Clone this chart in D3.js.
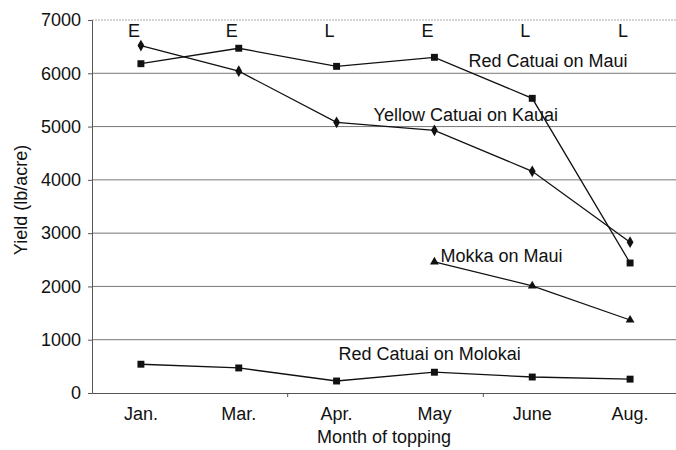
<!DOCTYPE html>
<html>
<head>
<meta charset="utf-8">
<script src="https://cdn.jsdelivr.net/npm/d3@7"></script>
<style>
  body { margin: 0; background: #fff; }
  text { font-family: "Liberation Sans", Arial, sans-serif; fill: #111; }
</style>
</head>
<body>
<div id="chart"></div>
<script>
var months = ["Jan.", "Mar.", "Apr.", "May", "June", "Aug."]
var flags = ["E", "E", "L", "E", "L", "L"]
var redMaui = [6180, 6470, 6130, 6300, 5530, 2440]
var yellowKauai = [6520, 6040, 5080, 4930, 4160, 2830]
var mokkaMaui = [null, null, null, 2460, 2010, 1370]
var redMolokai = [540, 470, 225, 390, 300, 260]
var yTicks = [0, 1000, 2000, 3000, 4000, 5000, 6000, 7000]

var margin = { top: 20, right: -3, bottom: 57, left: 92 }
    W = 676, H = 450
    w = W - margin.left - margin.right
    h = H - margin.top - margin.bottom

var svg = d3.select("#chart").append("svg")
    .attr("width", W).attr("height", H)
  .append("g")
    .attr("transform", "translate(" + margin.left + "," + margin.top + ")")

var x = d3.scaleBand().domain(months).range([0, w])
var y = d3.scaleLinear().domain([0, 7000]).range([h, 0])
var cx = function (m) { return x(m) + x.bandwidth() / 2 }

// gridlines
svg.selectAll(".grid")
    .data(yTicks.slice(1))
    .enter().append("line")
    .attr("x1", 0).attr("x2", w)
    .attr("y1", function (d) { return y(d) }).attr("y2", function (d) { return y(d) })
    .attr("stroke", function (d) { return d == 7000 ? "#aaa" : "#777" })
    .attr("stroke-dasharray", function (d) { return d == 7000 ? "2,1" : null })
    .attr("stroke-width", 1)

// axes
var yAx = svg.append("g")
    .call(d3.axisLeft(y).tickValues(yTicks).tickSize(4).tickPadding(7).tickFormat(d3.format("d")))
yAx.select(".domain").attr("stroke", "#555")
yAx.selectAll("line").attr("stroke", "#555")
yAx.selectAll("text").style("font-size", "18px").attr("fill", "#111")

var xAx = svg.append("g")
    .attr("transform", "translate(0," + h + ")")
    .call(d3.axisBottom(x).tickSize(0).tickPadding(14))
xAx.select(".domain").attr("stroke", "#555")
xAx.selectAll("text").style("font-size", "18px").attr("fill", "#111")

// tick marks between every second category
svg.selectAll(".xt")
    .data([1, 3, 5])
    .enter().append("line")
    .attr("x1", function (i) { return x(months[i]) + x.bandwidth() })
    .attr("x2", function (i) { return x(months[i]) + x.bandwidth() })
    .attr("y1", h).attr("y2", h + 4)
    .attr("stroke", "#555")

// series
var series = [
  { vals: redMaui, shape: d3.symbolSquare, size: 48 },
  { vals: yellowKauai, shape: d3.symbolDiamond, size: 40 },
  { vals: mokkaMaui, shape: d3.symbolTriangle, size: 34 },
  { vals: redMolokai, shape: d3.symbolSquare, size: 48 }
]

var line = d3.line()
    .defined(function (d) { return d != null })
    .x(function (d, i) { return cx(months[i]) })
    .y(function (d) { return y(d) })

series.forEach(function (s) {
  svg.append("path")
      .attr("d", line(s.vals))
      .attr("fill", "none")
      .attr("stroke", "#111")
      .attr("stroke-width", 1.3)
  var pts = s.vals.map(function (v, i) { return { v: v, m: months[i] } })
      .filter(function (d) { return d.v != null })
  svg.selectAll(null)
      .data(pts)
      .enter().append("path")
      .attr("d", d3.symbol().type(s.shape).size(s.size))
      .attr("transform", function (d) { return "translate(" + cx(d.m) + "," + y(d.v) + ")" })
      .attr("fill", "#111")
})

// E / L letters
svg.selectAll(".flag")
    .data(flags)
    .enter().append("text")
    .attr("x", function (d, i) { return cx(months[i]) - 7 })
    .attr("y", 17)
    .attr("text-anchor", "middle")
    .style("font-size", "18px")
    .text(function (d) { return d })

// series labels
var labels = [
  { t: "Red Catuai on Maui", m: "May", dx: 34, v: 6117 },
  { t: "Yellow Catuai on Kauai", m: "Apr.", dx: 37, v: 5104 },
  { t: "Mokka on Maui", m: "May", dx: 6, v: 2458 },
  { t: "Red Catuai on Molokai", m: "Apr.", dx: 2, v: 619 }
]
svg.selectAll(".lab")
    .data(labels)
    .enter().append("text")
    .attr("x", function (d) { return cx(d.m) + d.dx })
    .attr("y", function (d) { return y(d.v) })
    .style("font-size", "18px")
    .text(function (d) { return d.t })

// axis titles
svg.append("text")
    .attr("x", 384 - margin.left)
    .attr("y", h + 50)
    .attr("text-anchor", "middle")
    .style("font-size", "18px")
    .text("Month of topping")

svg.append("text")
    .attr("transform", "translate(" + (-65) + "," + (200 - margin.top) + ") rotate(-90)")
    .attr("text-anchor", "middle")
    .style("font-size", "18px")
    .text("Yield (lb/acre)")
</script>
</body>
</html>
